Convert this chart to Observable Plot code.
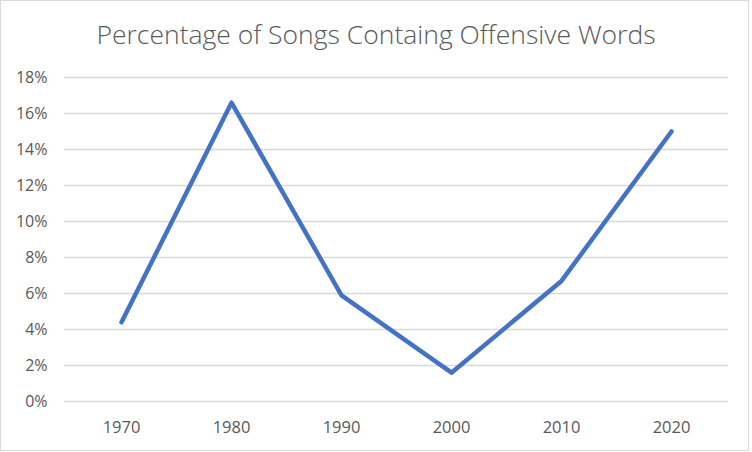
<!DOCTYPE html>
<html>
<head>
<meta charset="utf-8">
<script src="https://cdn.jsdelivr.net/npm/d3@7"></script>
<script src="https://cdn.jsdelivr.net/npm/@observablehq/plot@0.6"></script>
<style>
  html, body { margin: 0; padding: 0; background: #fff; }
  #wrap { position: relative; width: 752px; height: 452px; overflow: hidden; }
  #frame { position: absolute; left: 0; top: 0; width: 749px; height: 451px; box-sizing: border-box; border: 1.5px solid #d9d9d9; pointer-events: none; }
  #title { position: absolute; left: 0; top: 4px; width: 752px; height: 60px; text-align: center;
           font-family: "Open Sans", "Noto Sans", sans-serif; font-weight: 300; font-size: 26.5px; color: #595959;
           line-height: 60px; white-space: nowrap; }
  #chart { position: absolute; left: 0; top: 60px; }
  #chart svg g[aria-label="x-axis tick label"] { font-size: 16.5px; }
</style>
</head>
<body>
<div id="wrap">
  <div id="title">Percentage of Songs Containg Offensive Words</div>
  <div id="chart"></div>
  <div id="frame"></div>
</div>
<script>
const years = ["1970", "1980", "1990", "2000", "2010", "2020"];
const shares = [0.044, 0.166, 0.059, 0.016, 0.067, 0.150];
const yTicks = [0, 0.02, 0.04, 0.06, 0.08, 0.10, 0.12, 0.14, 0.16, 0.18];

const data = years.map((year, i) => ({year, share: shares[i]}));

const plot = Plot.plot({
  width: 752,
  height: 392,
  marginTop: 17,
  marginBottom: 51,
  marginLeft: 64,
  marginRight: 24,
  style: {fontFamily: "'Open Sans', 'Noto Sans', sans-serif", fontSize: "16px", color: "#595959", background: "transparent"},
  x: {type: "point", domain: years, padding: 0.5, label: null},
  y: {domain: [0, 0.18], label: null},
  marks: [
    Plot.gridY(yTicks, {stroke: "#d9d9d9", strokeOpacity: 1, strokeWidth: 1.5}),
    Plot.axisY(yTicks, {tickSize: 0, tickPadding: 17, tickFormat: d => Math.round(d * 100) + "%", label: null}),
    Plot.axisX({tickSize: 0, tickPadding: 20, label: null}),
    Plot.line(data, {x: "year", y: "share", stroke: "#4472C4", strokeWidth: 4.5, strokeLinejoin: "round", strokeLinecap: "round"})
  ]
});
document.getElementById("chart").appendChild(plot);
</script>
</body>
</html>
